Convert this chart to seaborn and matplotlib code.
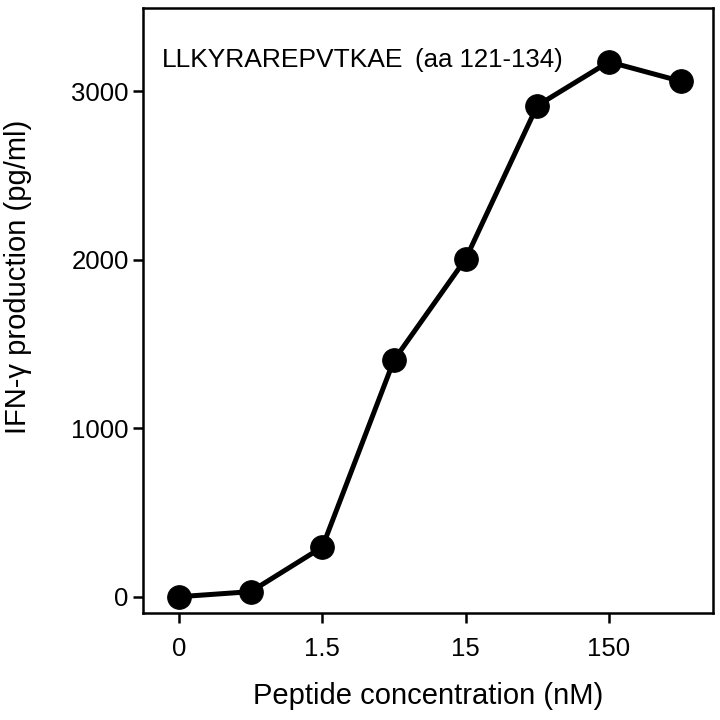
import matplotlib
matplotlib.use("Agg")
import matplotlib.pyplot as plt
import seaborn as sns
import pandas as pd

# data
positions = [0, 1, 2, 3, 4, 5, 6, 7]
ifn_gamma = [0, 30, 295, 1405, 2005, 2915, 3175, 3060]
tick_positions = [0, 2, 4, 6]
tick_labels = ["0", "1.5", "15", "150"]
y_ticks = [0, 1000, 2000, 3000]

sns.set_style("ticks")
plt.rcParams['font.family'] = ['Liberation Sans', 'DejaVu Sans']
plt.rcParams['text.color'] = 'black'
plt.rcParams['axes.labelcolor'] = 'black'
plt.rcParams['xtick.color'] = 'black'
plt.rcParams['ytick.color'] = 'black'

df = pd.DataFrame({"pos": positions, "ifn": ifn_gamma})

fig = plt.figure(figsize=(7.2, 7.2), dpi=100)
ax = fig.add_axes([0.199, 0.149, 0.791, 0.840])

sns.lineplot(data=df, x="pos", y="ifn", ax=ax, color="black", linewidth=3.6,
             marker="o", markersize=17, markeredgecolor="black")

ax.set_xlim(-0.5, 7.45)
ax.set_ylim(-95, 3495)
ax.set_xticks(tick_positions)
ax.set_xticklabels(tick_labels)
ax.set_yticks(y_ticks)
ax.tick_params(labelsize=18.5, width=1.8, length=7.5, color="black")
ax.tick_params(axis="x", pad=10)
ax.tick_params(axis="y", pad=3)
for s in ax.spines.values():
    s.set_linewidth(1.8)
    s.set_color("black")

ax.set_xlabel("Peptide concentration (nM)", fontsize=21)
ax.set_ylabel("IFN-\u03b3 production (pg/ml)", fontsize=21)
ax.xaxis.set_label_coords(0.5, -0.115)
ax.yaxis.set_label_coords(-0.195, 0.555)

ax.text(0.033, 0.914, "LLKYRAREPVTKAE", transform=ax.transAxes, fontsize=19,
        va="center", ha="left")
ax.text(0.477, 0.914, "(aa 121-134)", transform=ax.transAxes, fontsize=18.5,
        va="center", ha="left")

fig.savefig("out.png", dpi=100)
